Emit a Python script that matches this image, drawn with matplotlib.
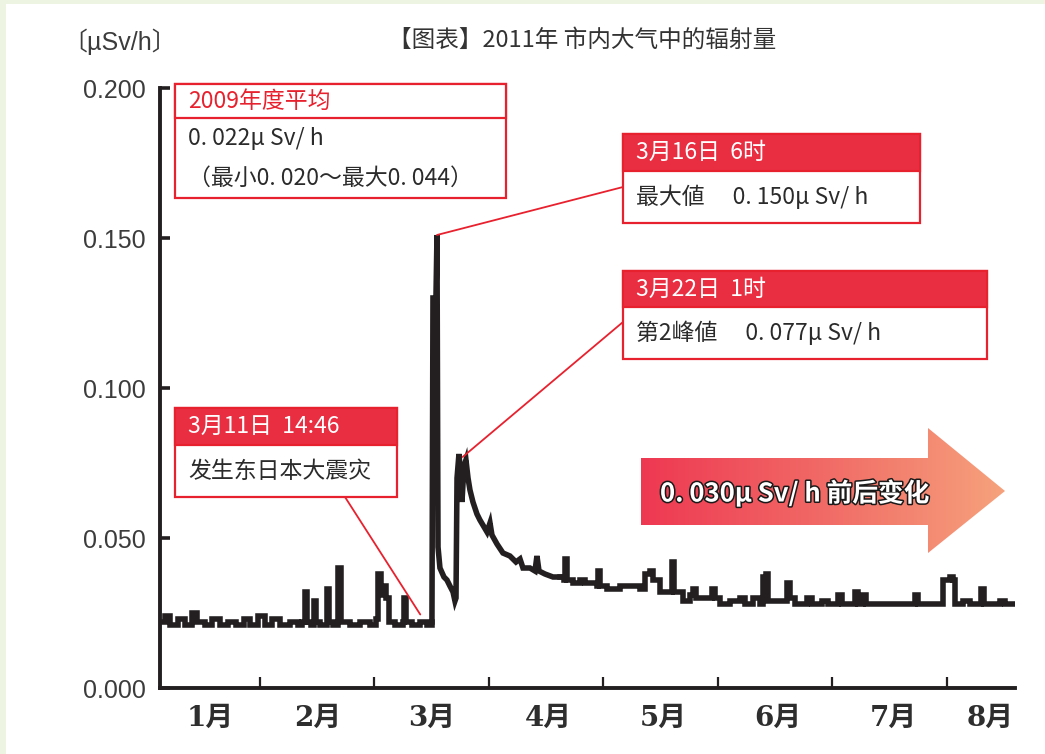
import numpy as np
import matplotlib.pyplot as plt
from matplotlib.patches import Rectangle, Polygon
from matplotlib.colors import LinearSegmentedColormap
import matplotlib.patheffects as pe

# month position: 0 = 1月1日, 1 = 2月1日 ...
before_x = [0.127, 0.170, 0.214, 0.284, 0.345, 0.406, 0.450, 0.520, 0.581, 0.651, 0.721, 0.790,
            0.860, 0.913, 0.983, 1.044, 1.105, 1.175, 1.262, 1.332, 1.367, 1.393, 1.410, 1.445,
            1.472, 1.489, 1.524, 1.585, 1.603, 1.638, 1.681, 1.707, 1.786, 1.873, 1.961, 2.013,
            2.031, 2.057, 2.083, 2.100, 2.127, 2.179, 2.249, 2.258, 2.275, 2.328, 2.397, 2.459]
before_y = [.022, .024, .021, .023, .021, .025, .022, .021, .023, .021, .022, .021,
            .023, .021, .024, .021, .023, .021, .022, .021, .022, .032, .022, .021,
            .029, .022, .021, .033, .022, .021, .040, .022, .021, .022, .021, .023,
            .038, .031, .034, .030, .022, .021, .022, .030, .022, .021, .022, .021]

quake_x = [2.502, 2.511, 2.537, 2.546, 2.555, 2.572, 2.607, 2.633, 2.659, 2.686, 2.703, 2.712,
           2.721, 2.738, 2.755, 2.764, 2.782, 2.799, 2.817, 2.834, 2.860, 2.895, 2.921, 2.983,
           3.009, 3.026, 3.070, 3.122, 3.183, 3.236, 3.271, 3.297, 3.358, 3.402, 3.419, 3.437,
           3.489, 3.559]
quake_y = [.022, .130, .130, .151, .047, .040, .037, .036, .034, .032, .029, .030,
           .070, .078, .070, .062, .074, .076, .070, .066, .062, .058, .056, .052,
           .055, .051, .048, .045, .044, .042, .043, .040, .040, .039, .044, .039,
           .038, .037]

after_x = [3.620, 3.655, 3.664, 3.681, 3.734, 3.795, 3.838, 3.943, 3.952, 3.969, 4.031, 4.144,
           4.258, 4.319, 4.362, 4.406, 4.432, 4.493, 4.581, 4.598, 4.616, 4.694, 4.755, 4.782,
           4.808, 4.886, 4.948, 4.974, 5.017, 5.105, 5.192, 5.236, 5.306, 5.367, 5.393, 5.419,
           5.437, 5.480, 5.541, 5.603, 5.629, 5.672, 5.716, 5.777, 5.821, 5.908, 5.961, 6.048,
           6.083, 6.153, 6.197, 6.223, 6.266, 6.293, 6.415, 6.590, 6.694, 6.721, 6.747, 6.895,
           6.965, 7.026, 7.052, 7.070, 7.140, 7.201, 7.297, 7.323, 7.376, 7.463, 7.507, 7.576]
after_y = [.037, .036, .043, .036, .035, .036, .035, .034, .039, .034, .033, .034,
           .034, .033, .038, .039, .036, .032, .032, .042, .032, .029, .031, .033,
           .030, .030, .033, .030, .028, .029, .030, .028, .030, .028, .037, .038,
           .029, .029, .029, .035, .030, .028, .028, .030, .028, .029, .028, .031,
           .028, .028, .032, .028, .031, .028, .028, .028, .028, .031, .028, .028,
           .036, .037, .036, .028, .029, .028, .033, .028, .028, .029, .028, .028]

y_ticks = [0.0, 0.05, 0.1, 0.15, 0.2]
y_labels = ['0.000', '0.050', '0.100', '0.150', '0.200']
month_edges = [1, 2, 3, 4, 5, 6, 7]
month_pos = [0.563, 1.507, 2.502, 3.515, 4.520, 5.524, 6.528, 7.376]
month_labels = ['1月', '2月', '3月', '4月', '5月', '6月', '7月', '8月']

quake_point = (2.40, 0.0245)
max_point = (2.546, 0.151)
second_point = (2.77, 0.077)

RED = '#e8212e'
HEAD = '#ea2e42'
INK = '#231f20'
CJK = ['Noto Sans CJK SC', 'DejaVu Sans']

fig = plt.figure(figsize=(10.45, 7.54), dpi=100)
fig.patch.set_facecolor('#eef4e2')
fig.add_artist(Rectangle((6 / 1045, 0), 1, 1 - 4 / 754, transform=fig.transFigure,
                         facecolor='white', edgecolor='none', zorder=-5))

ax = fig.add_axes([160 / 1045, 66 / 754, 855 / 1045, 600 / 754])
ax.set_facecolor('none')
line_kw = dict(color=INK, lw=4.0, solid_joinstyle='miter')
ax.plot(before_x + [quake_x[0]], before_y + [quake_y[0]], drawstyle='steps-post', **line_kw)
ax.plot(quake_x + [after_x[0]], quake_y + [after_y[0]], **line_kw)
ax.plot(after_x, after_y, drawstyle='steps-post', **line_kw)
ax.set_xlim(0.127, 7.594)
ax.set_ylim(0, 0.2)
for s in ['top', 'right']:
    ax.spines[s].set_visible(False)
for s in ['left', 'bottom']:
    ax.spines[s].set_linewidth(2.8)
    ax.spines[s].set_color(INK)
    ax.spines[s].set_capstyle('projecting')

ax.set_yticks(y_ticks)
ax.set_yticklabels(y_labels, family=['Liberation Sans'], fontsize=18, color='#3c3c3c')
ax.tick_params(axis='y', direction='in', length=7, width=2.6, color=INK, pad=10)
ax.set_xticks(month_edges)
ax.set_xticklabels([])
ax.set_xticks(month_pos, minor=True)
ax.set_xticklabels(month_labels, minor=True, family=['DejaVu Serif', 'Noto Sans CJK SC'],
                   fontsize=20, fontweight='bold', color='#2e2e2e')
ax.tick_params(axis='x', which='major', direction='in', length=8, width=1.6, color=INK)
ax.tick_params(axis='x', which='minor', length=0, pad=12)

# overlay in pixel coordinates for the callouts
ov = fig.add_axes([0, 0, 1, 1], zorder=3)
ov.patch.set_alpha(0)

ov.text(62, 42, '〔µSv/h〕', family=['Liberation Sans', 'Noto Sans CJK SC'], fontsize=18,
        color='#3c3c3c', va='center', ha='left')
ov.text(582, 40, '【图表】2011年 市内大气中的辐射量', family=CJK, fontsize=17,
        color='#333333', va='center', ha='center')


def callout(x0, y0, w, h1, h2, head, body, filled):
    ov.add_patch(Rectangle((x0, y0), w, h1 + h2, facecolor='white', edgecolor=RED, lw=1.6))
    ov.add_patch(Rectangle((x0, y0), w, h1, facecolor=HEAD if filled else 'white',
                           edgecolor=RED, lw=1.6))
    ov.text(x0 + 13, y0 + h1 / 2, head, family=CJK, fontsize=16.5,
            color='white' if filled else RED, va='center', ha='left')
    for i, line in enumerate(body):
        n = len(body)
        yy = y0 + h1 + h2 * (i + 0.5) / n
        ov.text(x0 + 13, yy, line, family=CJK, fontsize=16.5, color='#2b2b2b',
                va='center', ha='left')


callout(175, 84, 331, 34, 80, '2009年度平均', ['0. 022μ Sv/ h', '（最小0. 020〜最大0. 044）'], False)
callout(623, 134, 297, 37, 52, '3月16日  6时', ['最大値　 0. 150μ Sv/ h'], True)
callout(623, 271, 364, 36, 52, '3月22日  1时', ['第2峰値　 0. 077μ Sv/ h'], True)
callout(175, 408, 222, 37, 52, '3月11日  14:46', ['发生东日本大震灾'], True)

lead = dict(arrowstyle='-', color=RED, lw=1.3, shrinkA=0, shrinkB=0)
ov.annotate('', xy=max_point, xycoords=ax.transData, xytext=(623, 187), textcoords='data',
            arrowprops=lead)
ov.annotate('', xy=second_point, xycoords=ax.transData, xytext=(623, 322), textcoords='data',
            arrowprops=lead)
ov.annotate('', xy=quake_point, xycoords=ax.transData, xytext=(345, 497), textcoords='data',
            arrowprops=lead)

# gradient arrow
arrow = Polygon([(641, 458), (928, 458), (928, 428), (1005, 491), (928, 553), (928, 525),
                 (641, 525)], closed=True, facecolor='none', edgecolor='none')
ov.add_patch(arrow)
cmap = LinearSegmentedColormap.from_list('arr', ['#ee3852', '#f16a66', '#f6a27c'])
grad = np.linspace(0, 1, 256).reshape(1, -1)
im = ov.imshow(grad, extent=(641, 1005, 553, 428), aspect='auto', cmap=cmap)
im.set_clip_path(arrow)
ov.text(660, 494, '0. 030μ Sv/ h 前后变化', family=CJK, fontsize=18.5, fontweight='bold',
        color='white', va='center', ha='left',
        path_effects=[pe.withStroke(linewidth=2.2, foreground='#1a1a1a')])

ov.set_xlim(0, 1045)
ov.set_ylim(754, 0)
ov.axis('off')

fig.savefig('out.png', dpi=100)
